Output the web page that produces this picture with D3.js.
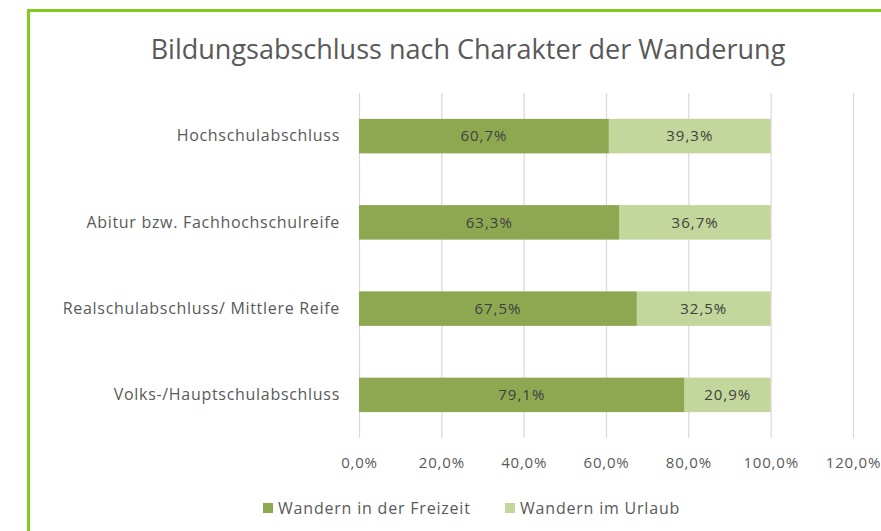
<!DOCTYPE html>
<html><head><meta charset="utf-8">
<script src="https://cdn.jsdelivr.net/npm/d3@7"></script>
<style>body{margin:0;background:#fff;}svg{display:block;}</style>
</head><body>
<svg id="c" width="881" height="531"></svg>
<script>
const categories = ["Hochschulabschluss","Abitur bzw. Fachhochschulreife","Realschulabschluss/ Mittlere Reife","Volks-/Hauptschulabschluss"];
const seriesNames = ["Wandern in der Freizeit","Wandern im Urlaub"];
const freizeit = [60.7, 63.3, 67.5, 79.1];
const urlaub = [39.3, 36.7, 32.5, 20.9];
const tickValues = [0,20,40,60,80,100,120];
const title = "Bildungsabschluss nach Charakter der Wanderung";

const colors = ["#8EA852","#C3D69B"];
const font = "'Open Sans', 'Liberation Sans', sans-serif";
const svg = d3.select("#c");

svg.append("rect").attr("x",0).attr("y",0).attr("width",881).attr("height",531).attr("fill","#fff");
svg.append("path").attr("d","M28.5,531 L28.5,10.5 L881,10.5").attr("fill","none").attr("stroke","#7FCB1E").attr("stroke-width",3);

svg.append("text").attr("x",468).attr("y",59).attr("text-anchor","middle")
  .attr("font-family",font).attr("font-size",27).attr("fill","#595959").text(title);

const x = d3.scaleLinear().domain([0,120]).range([359,853]);
const y = d3.scaleBand().domain(categories).range([93,438]).paddingInner(0.6).paddingOuter(0.3);

svg.append("g").selectAll("line").data(tickValues).join("line")
  .attr("x1",d=>x(d)+0.5).attr("x2",d=>x(d)+0.5).attr("y1",93).attr("y2",438)
  .attr("stroke","#D9D9D9").attr("stroke-width",1.2);

const rows = categories.map((c,i)=>({c, v:[freizeit[i], urlaub[i]]}));
const stack = [];
rows.forEach(r=>{let acc=0; r.v.forEach((v,j)=>{stack.push({c:r.c, j, x0:acc, x1:acc+v, v}); acc+=v;});});

svg.append("g").selectAll("rect").data(stack).join("rect")
  .attr("x",d=>x(d.x0)).attr("width",d=>x(d.x1)-x(d.x0))
  .attr("y",d=>y(d.c)).attr("height",y.bandwidth())
  .attr("fill",d=>colors[d.j]);

svg.append("g").selectAll("text").data(stack).join("text")
  .attr("x",d=>(x(d.x0)+x(d.x1))/2).attr("y",d=>y(d.c)+y.bandwidth()/2)
  .attr("dy","0.35em").attr("text-anchor","middle")
  .attr("font-family",font).attr("font-size",15).attr("letter-spacing",1).attr("fill","#404040")
  .text(d=>d3.format(".1f")(d.v).replace(".",",")+"%");

const yAxis = svg.append("g").attr("transform","translate(359,0)").call(d3.axisLeft(y).tickSize(0).tickPadding(19));
yAxis.select(".domain").remove();
yAxis.selectAll("text").attr("font-family",font).attr("font-size",16).attr("letter-spacing",0.7).attr("fill","#595959");

const xAxis = svg.append("g").attr("transform","translate(0,438)")
  .call(d3.axisBottom(x).tickValues(tickValues).tickSize(0).tickPadding(19).tickFormat(d=>d3.format(".1f")(d).replace(".",",")+"%"));
xAxis.select(".domain").remove();
xAxis.selectAll("text").attr("font-family",font).attr("font-size",15).attr("letter-spacing",0.8).attr("fill","#595959");

const legX = [263, 505];
const lg = svg.append("g").selectAll("g").data(seriesNames).join("g")
  .attr("transform",(d,i)=>`translate(${legX[i]},508)`);
lg.append("rect").attr("x",0).attr("y",-5).attr("width",10).attr("height",10).attr("fill",(d,i)=>colors[i]);
lg.append("text").attr("x",15).attr("y",0).attr("dy","0.35em")
  .attr("font-family",font).attr("font-size",16).attr("letter-spacing",0.8).attr("fill","#595959").text(d=>d);
</script>
</body></html>
